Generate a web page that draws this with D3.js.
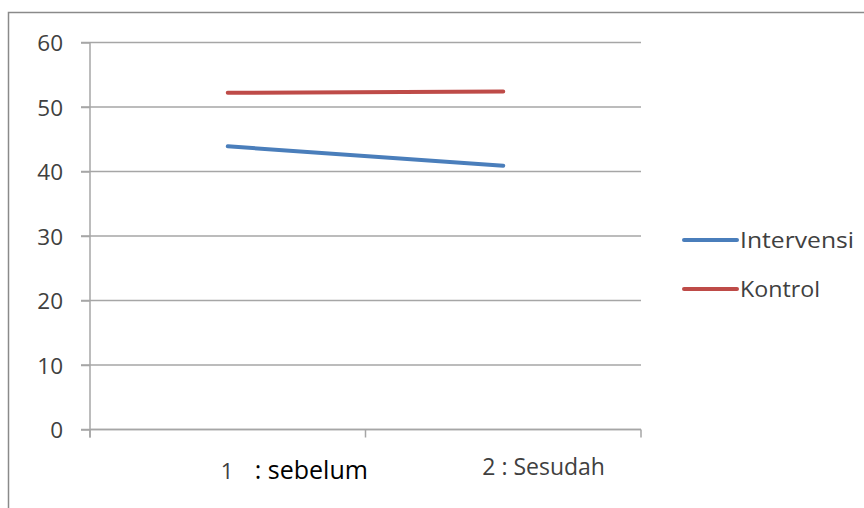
<!DOCTYPE html>
<html><head><meta charset="utf-8">
<script src="https://cdn.jsdelivr.net/npm/d3@7"></script>
<style>body{margin:0;background:#fff}svg{display:block}</style>
</head><body>
<script>
const categories = ["1", "2"];
const categoryLabels = [["1", ": sebelum"], ["2 : Sesudah"]];
const seriesNames = ["Intervensi", "Kontrol"];
const intervensi = [43.9, 40.9];
const kontrol = [52.2, 52.4];
const yTicks = [0, 10, 20, 30, 40, 50, 60];
const colors = ["#4a7ebb", "#be4b48"];

const W = 864, H = 508;
const FONT = "'Open Sans', sans-serif";
const svg = d3.select("body").append("svg").attr("width", W).attr("height", H);

// outer frame
svg.append("path").attr("d", `M8.5,${H} V12.5 H${W}`).attr("fill","none").attr("stroke","#8a8a8a").attr("stroke-width",1.5);

const x0 = 90, x1 = 641, yTop = 42.5, yBot = 429.5;
const x = d3.scaleBand().domain(categories).range([x0, x1]);
const y = d3.scaleLinear().domain([0, 60]).range([yBot, yTop]);

// gridlines
svg.append("g").selectAll("line").data(yTicks).join("line")
  .attr("x1", 81).attr("x2", x1).attr("y1", d => y(d)).attr("y2", d => y(d))
  .attr("stroke", "#a6a6a6").attr("stroke-width", 1.5);

// y axis
const yAxis = svg.append("g").attr("transform", `translate(${x0},0)`)
  .call(d3.axisLeft(y).tickValues(yTicks).tickSize(9).tickPadding(18))
  .attr("font-size", null).attr("font-family", null);
yAxis.select(".domain").attr("stroke", "#a6a6a6").attr("stroke-width", 1.5).attr("d", `M0,${yTop}V${yBot+8}`);
yAxis.selectAll(".tick line").attr("stroke", "#a6a6a6").attr("stroke-width", 1.5);
yAxis.selectAll("text").attr("fill", "#404040").attr("font-family", FONT).attr("font-size", 22.5).attr("dy", "0.36em");

// x axis
const xAxis = svg.append("g").attr("transform", `translate(0,${yBot})`);
xAxis.append("line").attr("x1", x0).attr("x2", x1).attr("stroke", "#a6a6a6").attr("stroke-width", 1.5);
const bounds = [x0, x0 + x.bandwidth(), x1];
xAxis.selectAll("line.tk").data(bounds).join("line").attr("class","tk")
  .attr("x1", d => d).attr("x2", d => d).attr("y1", 0).attr("y2", 8)
  .attr("stroke", "#a6a6a6").attr("stroke-width", 1.5);

// x labels
const c1 = x("1") + x.bandwidth()/2;
svg.append("text").attr("x", c1 - 7).attr("y", 479).attr("text-anchor","start")
  .attr("font-family", FONT).attr("font-size", 22).attr("fill","#404040")
  .text(categoryLabels[0][0]);
svg.append("text").attr("x", c1 + 27).attr("y", 479).attr("text-anchor","start")
  .attr("font-family", FONT).attr("font-size", 25).attr("fill","#000")
  .text(categoryLabels[0][1]);
const c2 = x("2") + x.bandwidth()/2;
svg.append("text").attr("x", c2 - 21).attr("y", 475).attr("text-anchor","start")
  .attr("font-family", FONT).attr("font-size", 23).attr("fill","#404040")
  .text(categoryLabels[1][0]);

// lines
const line = d3.line().x((d,i) => x(categories[i]) + x.bandwidth()/2).y(d => y(d));
[intervensi, kontrol].forEach((s, k) => {
  svg.append("path").datum(s).attr("d", line).attr("fill","none")
    .attr("stroke", colors[k]).attr("stroke-width", 4).attr("stroke-linecap","round");
});

// legend
const legendWidths = [114, 80];
const leg = svg.append("g");
seriesNames.forEach((n, k) => {
  const ly = 240 + k * 49;
  leg.append("line").attr("x1", 684).attr("x2", 737).attr("y1", ly).attr("y2", ly)
    .attr("stroke", colors[k]).attr("stroke-width", 4).attr("stroke-linecap","round");
  leg.append("text").attr("x", 740).attr("y", ly + 7.5).attr("fill","#404040")
    .attr("font-family", FONT).attr("font-size", 21)
    .attr("textLength", legendWidths[k]).attr("lengthAdjust", "spacingAndGlyphs").text(n);
});
</script>
</body></html>
